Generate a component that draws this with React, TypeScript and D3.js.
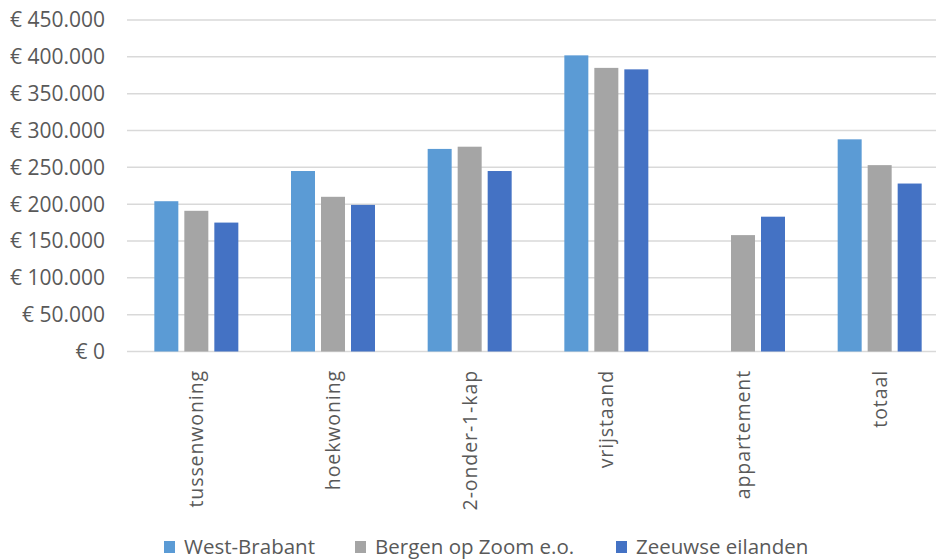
import * as React from 'react'
import * as d3 from 'd3'

const categories = ['tussenwoning', 'hoekwoning', '2-onder-1-kap', 'vrijstaand', 'appartement', 'totaal']
const seriesNames = ['West-Brabant', 'Bergen op Zoom e.o.', 'Zeeuwse eilanden']
const westBrabant: (number | null)[] = [204000, 245000, 275000, 402000, null, 288000]
const bergenOpZoom: (number | null)[] = [191000, 210000, 278000, 385000, 158000, 253000]
const zeeuwseEilanden: (number | null)[] = [175000, 199000, 245000, 383000, 183000, 228000]
const yTicks = [0, 50000, 100000, 150000, 200000, 250000, 300000, 350000, 400000, 450000]

const colors = ['#5B9BD5', '#A5A5A5', '#4472C4']
const seriesValues = [westBrabant, bergenOpZoom, zeeuwseEilanden]

const W = 936
const H = 560
const FONT = '"Open Sans", "Liberation Sans", sans-serif'

const fmt = (v: number) =>
  v === 0 ? '€ 0' : '€ ' + d3.format(',')(v).replace(/,/g, '.')

const App = () => {
  // x axis: outer band per category, inner band per series
  const x0 = d3.scaleBand<string>().domain(categories).range([128, 948]).padding(0)
  const x1 = d3.scaleBand<string>().domain(seriesNames).range([-45, 45])
    .paddingInner(0.2).paddingOuter(0.1)
  const y = d3.scaleLinear().domain([0, 450000]).range([351.5, 20])

  const legendX = [164, 355, 616]

  return (
    <svg width={W} height={H} style={{ position: 'absolute', left: 0, top: 0, background: '#fff' }}
      fontFamily={FONT}>
      {/* gridlines */}
      {yTicks.map(t => (
        <line key={t} x1={127} x2={W} y1={y(t)} y2={y(t)} stroke="#D9D9D9" strokeWidth={1.5} />
      ))}
      {/* y tick labels */}
      {yTicks.map(t => (
        <text key={'l' + t} x={105} y={y(t)} dy="0.35em" textAnchor="end" fontSize={21} fill="#595959">
          {fmt(t)}
        </text>
      ))}
      {/* bars */}
      {categories.map((c, i) => {
        const cx = (x0(c) as number) + x0.bandwidth() / 2
        return (
          <g key={c}>
            {seriesNames.map((s, j) => {
              const v = seriesValues[j][i]
              if (v == null) return null
              return (
                <rect key={s} x={cx + (x1(s) as number)} y={y(v)} width={x1.bandwidth()}
                  height={y(0) - y(v)} fill={colors[j]} />
              )
            })}
          </g>
        )
      })}
      {/* category labels */}
      {categories.map(c => {
        const cx = (x0(c) as number) + x0.bandwidth() / 2
        return (
          <text key={'c' + c} transform={`translate(${cx + 7},370) rotate(-90)`} textAnchor="end"
            fontSize={19.5} letterSpacing={0.9} fill="#595959">
            {c}
          </text>
        )
      })}
      {/* legend */}
      {seriesNames.map((s, j) => (
        <g key={'lg' + s} transform={`translate(${legendX[j]},547)`}>
          <rect x={0} y={-6} width={11} height={12} fill={colors[j]} />
          <text x={20} y={0} dy="0.35em" fontSize={20.5} fill="#595959">{s}</text>
        </g>
      ))}
    </svg>
  )
}

export default App
